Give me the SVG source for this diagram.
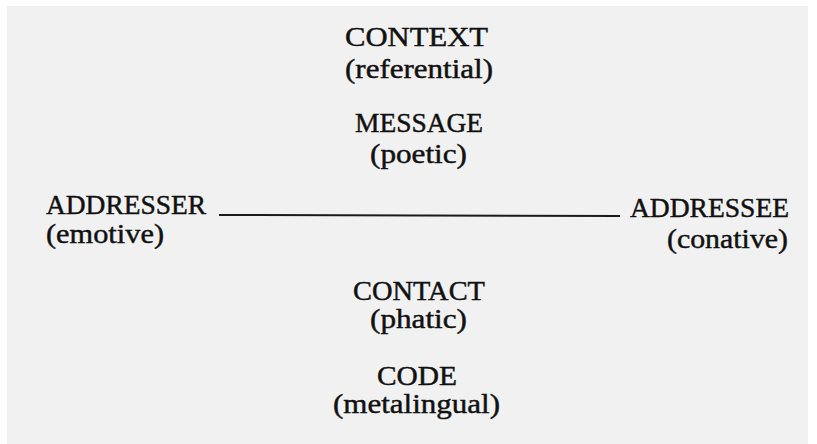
<svg xmlns="http://www.w3.org/2000/svg" width="817" height="444" viewBox="0 0 817 444">
  <style>
    .t { font-family: "Liberation Serif", "Times New Roman", serif; font-size: 27px; fill: #111; stroke: #111; stroke-width: 0.45; }
    .conn { stroke: #1a1a1a; stroke-width: 2; fill: none; }
  </style>
  <rect x="0" y="0" width="817" height="444" fill="#ffffff"/>
  <rect x="7" y="6" width="801" height="438" fill="#f1f1f1"/>
  <g id="connectors">
    <line class="conn" x1="219" y1="215" x2="620" y2="216"/>
  </g>
  <g id="context">
    <text class="t" x="345" y="46" textLength="143" lengthAdjust="spacingAndGlyphs">CONTEXT</text>
    <text class="t" x="345" y="78" textLength="148" lengthAdjust="spacingAndGlyphs">(referential)</text>
  </g>
  <g id="message">
    <text class="t" x="355" y="132" textLength="128" lengthAdjust="spacingAndGlyphs">MESSAGE</text>
    <text class="t" x="370" y="163" textLength="97" lengthAdjust="spacingAndGlyphs">(poetic)</text>
  </g>
  <g id="addresser">
    <text class="t" x="46" y="214" textLength="160" lengthAdjust="spacingAndGlyphs">ADDRESSER</text>
    <text class="t" x="46" y="243" textLength="118" lengthAdjust="spacingAndGlyphs">(emotive)</text>
  </g>
  <g id="addressee">
    <text class="t" x="630" y="217" textLength="159" lengthAdjust="spacingAndGlyphs">ADDRESSEE</text>
    <text class="t" x="667" y="248" textLength="121" lengthAdjust="spacingAndGlyphs">(conative)</text>
  </g>
  <g id="contact">
    <text class="t" x="353" y="300" textLength="132" lengthAdjust="spacingAndGlyphs">CONTACT</text>
    <text class="t" x="370" y="328" textLength="97" lengthAdjust="spacingAndGlyphs">(phatic)</text>
  </g>
  <g id="code">
    <text class="t" x="377" y="385" textLength="80" lengthAdjust="spacingAndGlyphs">CODE</text>
    <text class="t" x="333" y="413" textLength="167" lengthAdjust="spacingAndGlyphs">(metalingual)</text>
  </g>
</svg>
